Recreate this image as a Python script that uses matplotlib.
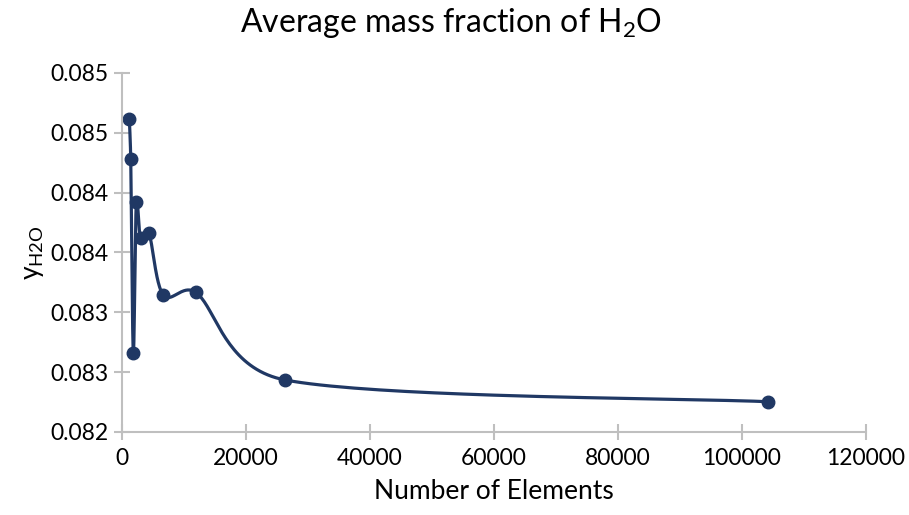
import matplotlib.pyplot as plt
import numpy as np
from matplotlib.ticker import FormatStrFormatter, MultipleLocator

plt.rcParams["font.family"] = ["Lato", "DejaVu Sans"]
plt.rcParams["mathtext.fontset"] = "custom"
plt.rcParams["mathtext.rm"] = "Lato"

# values
n_elements = [1256, 1482, 1900, 2384, 3060, 4430, 6733, 11950, 26335, 104180]
y_h2o = [0.084613, 0.084279, 0.082663, 0.083919, 0.083625, 0.083659,
         0.083145, 0.083167, 0.082435, 0.082253]

x_ticks = [0, 20000, 40000, 60000, 80000, 100000, 120000]
x_lim = (0, 120000)
y_lim = (0.082, 0.085)

LINE = "#203864"
AXIS = "#bfbfbf"

# axes size in pixels, used to smooth the line in screen space
AX_W, AX_H = 745.0, 359.0


def smooth(x, y, n=40):
    # Excel-style smoothed line: Bezier segments with 1/6 tension,
    # control arms capped at half the segment length
    px = (np.asarray(x, float) - x_lim[0]) / (x_lim[1] - x_lim[0]) * AX_W
    py = (np.asarray(y, float) - y_lim[0]) / (y_lim[1] - y_lim[0]) * AX_H
    pts = np.column_stack([px, py])
    out = [pts[0]]
    t = np.linspace(0, 1, n)[1:, None]
    for i in range(len(pts) - 1):
        p0 = pts[i - 1] if i > 0 else pts[i]
        p1, p2 = pts[i], pts[i + 1]
        p3 = pts[i + 2] if i + 2 < len(pts) else pts[i + 1]
        d12 = np.hypot(*(p2 - p1))
        d02 = np.hypot(*(p2 - p0))
        d13 = np.hypot(*(p3 - p1))
        f1 = 1 / 6 if d02 / 6 < d12 / 2 else d12 / (2 * d02)
        f2 = 1 / 6 if d13 / 6 < d12 / 2 else d12 / (2 * d13)
        c1 = p1 + f1 * (p2 - p0)
        c2 = p2 - f2 * (p3 - p1)
        seg = ((1 - t) ** 3) * p1 + 3 * ((1 - t) ** 2) * t * c1 \
            + 3 * (1 - t) * t ** 2 * c2 + t ** 3 * p2
        out.extend(seg)
    out = np.array(out)
    sx = out[:, 0] / AX_W * (x_lim[1] - x_lim[0]) + x_lim[0]
    sy = out[:, 1] / AX_H * (y_lim[1] - y_lim[0]) + y_lim[0]
    return sx, sy


fig = plt.figure(figsize=(9.09, 5.15), dpi=100)
ax = fig.add_axes([0.1337, 0.1612, 0.819, 0.6971])

sx, sy = smooth(n_elements, y_h2o)
ax.plot(sx, sy, color=LINE, linewidth=2.3, solid_capstyle="round")
ax.plot(n_elements, y_h2o, "o", color=LINE, markersize=9)

ax.set_xlim(*x_lim)
ax.set_ylim(*y_lim)
ax.set_xticks(x_ticks)
ax.yaxis.set_major_locator(MultipleLocator(0.0005))
ax.yaxis.set_major_formatter(FormatStrFormatter("%.3f"))

for side in ("top", "right"):
    ax.spines[side].set_visible(False)
for side in ("left", "bottom"):
    ax.spines[side].set_color(AXIS)
    ax.spines[side].set_linewidth(1.5)
ax.tick_params(direction="inout", length=11, width=1.5, color=AXIS,
               labelsize=16.5, labelcolor="black", pad=6)
ax.tick_params(axis="y", pad=4)

ax.set_xlabel("Number of Elements", fontsize=19, labelpad=7)
ax.set_ylabel(r"$\mathregular{y_{H2O}}$", fontsize=19, labelpad=3)
fig.text(0.496, 0.955, r"Average mass fraction of H$\mathregular{_2}$O",
         ha="center", va="center", fontsize=23)

fig.savefig("out.png", dpi=100)
